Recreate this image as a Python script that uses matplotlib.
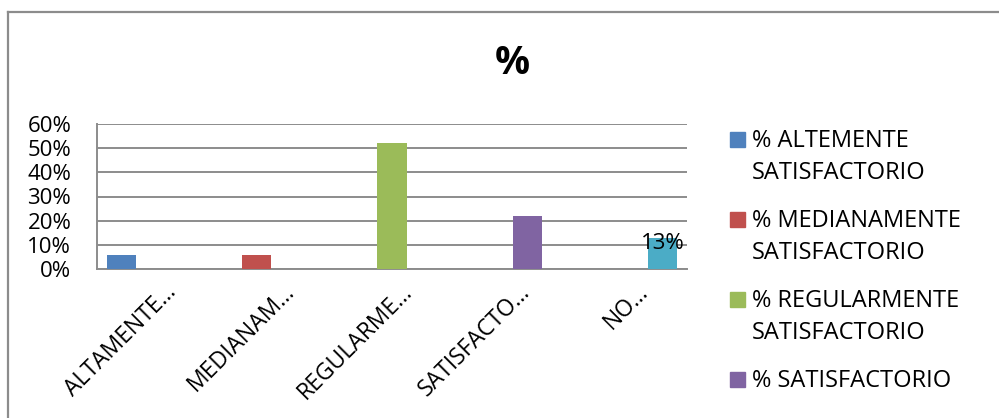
import matplotlib
matplotlib.use("Agg")
import matplotlib.pyplot as plt
import numpy as np
from matplotlib.lines import Line2D
from matplotlib.patches import Rectangle
from matplotlib.ticker import PercentFormatter
from matplotlib.transforms import ScaledTranslation

plt.rcParams['font.family'] = ['Open Sans', 'DejaVu Sans']

# Survey categories (axis labels are truncated as in the source sheet)
categories = ["ALTAMENTE…", "MEDIANAM…", "REGULARME…", "SATISFACTO…", "NO…"]
series_names = [
    "% ALTEMENTE\nSATISFACTORIO",
    "% MEDIANAMENTE\nSATISFACTORIO",
    "% REGULARMENTE\nSATISFACTORIO",
    "% SATISFACTORIO",
    "% NO SATISFACTORIO",
]
# each series only has a value in its own category
series_values = [0.06, 0.06, 0.52, 0.22, 0.13]
colors = ["#4F81BD", "#C0504D", "#9BBB59", "#8064A2", "#4BACC6"]
yticks = [0.0, 0.1, 0.2, 0.3, 0.4, 0.5, 0.6]

W, H = 999, 418
fig = plt.figure(figsize=(W / 100, H / 100), dpi=100)
fig.patch.set_facecolor("white")

# chart frame (left and top edges)
grey = "#8C8C8C"
fig.add_artist(Line2D([8 / W, 8 / W], [0, 1 - 12 / H], color=grey, lw=1.6))
fig.add_artist(Line2D([8 / W, 1], [1 - 12 / H, 1 - 12 / H], color=grey, lw=1.6))

px0, px1, py0, py1 = 97, 687, 124, 269
ax = fig.add_axes([px0 / W, 1 - py1 / H, (px1 - px0) / W, (py1 - py0) / H])

n = len(series_values)
x = np.arange(len(categories))
step = 0.146
width = 0.246
for i, (name, val, col) in enumerate(zip(series_names, series_values, colors)):
    vals = np.zeros(len(categories))
    vals[i] = val
    ax.bar(x + (i - (n - 1) / 2) * step, vals, width=width, color=col,
           label=name, zorder=3)

# data label on the last series
last = n - 1
ax.annotate(f"{series_values[last]:.0%}",
            xy=(x[last] + (last - (n - 1) / 2) * step, series_values[last]),
            xytext=(0, -6), textcoords="offset pixels",
            ha="center", va="center", fontsize=16, color="black", zorder=4)

ax.set_xlim(-0.5, len(categories) - 0.5)
ax.set_ylim(0, 0.6)
ax.set_yticks(yticks)
ax.yaxis.set_major_formatter(PercentFormatter(1.0, decimals=0))
ax.grid(axis="y", color=grey, lw=1.4, zorder=0)
for s in ["top", "right"]:
    ax.spines[s].set_visible(False)
for s in ["left", "bottom"]:
    ax.spines[s].set_color(grey)
    ax.spines[s].set_linewidth(1.4)
ax.tick_params(axis="both", length=0, labelsize=16, colors="black")
ax.tick_params(axis="y", pad=18.5)

ax.set_xticks(x)
ax.set_xticklabels(categories, rotation=45, ha="right", va="center",
                   rotation_mode="anchor", fontsize=16.5)
ax.tick_params(axis="x", pad=14)
offset = ScaledTranslation(17 / 100, 0, fig.dpi_scale_trans)
for lab in ax.get_xticklabels():
    lab.set_transform(lab.get_transform() + offset)

fig.text(512 / W, 1 - 63 / H, "%", ha="center", va="center",
         fontsize=28, fontweight="bold")

# legend on the right: square key aligned with the first text line
leg_x = 730
baselines = [147, 227, 307, 387]
pitch = 32
for name, col, yb in zip(series_names, colors, baselines):
    fig.add_artist(Rectangle((leg_x / W, 1 - yb / H), 15 / W, 15 / H,
                             transform=fig.transFigure, color=col))
    for k, line in enumerate(name.split("\n")):
        fig.text((leg_x + 22) / W, 1 - (yb + k * pitch) / H, line,
                 ha="left", va="baseline", fontsize=17)

fig.savefig("out.png", dpi=100)
